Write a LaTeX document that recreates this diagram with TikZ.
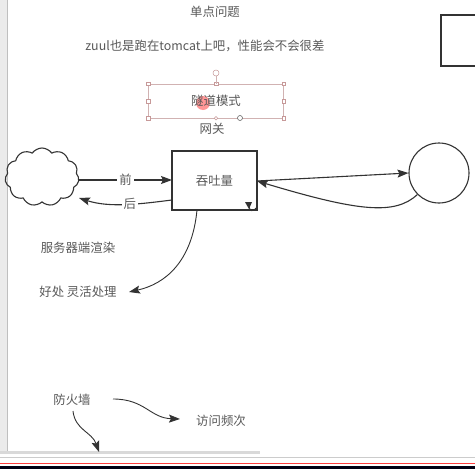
\documentclass[tikz,border=0pt]{standalone}
\usepackage{fontspec}
\newfontfamily\cjk{Noto Sans CJK SC}
\usetikzlibrary{arrows.meta,shapes.symbols}
\begin{document}
\begin{tikzpicture}[x=1pt,y=-1pt,
  txt/.style={font=\cjk\fontsize{12.4}{14}\selectfont,text=black!65,inner sep=0pt},
  ln/.style={draw=black!80,line width=1.1pt},
  arr/.style={ln,-{Stealth[length=11pt,width=8pt,inset=2pt]}},
  handle/.style={draw=red!45!black!40,fill=white,line width=0.5pt,minimum size=4pt,inner sep=0pt}]
\useasboundingbox (0,0) rectangle (475,469);
\fill[white] (0,0) rectangle (475,469);
% UI strips
\fill[black!8] (0,0) rectangle (7,452);
\draw[black!25,line width=0.6pt] (7,0) -- (7,452);
\fill[black!15] (0,450.5) rectangle (260,453.5);
\draw[black!20,line width=0.5pt] (0,457) -- (475,457);
\draw[red!75,line width=1pt] (0,463) -- (475,463);
\fill[black!75!blue!30!black] (0,466) rectangle (475,469);
% texts
\node[txt] (t1) at (215,12) {单点问题};
\node[txt] (t2) at (205,46) {zuul也是跑在tomcat上吧，性能会不会很差};
% selection
\node[draw=red!40!black!30,line width=0.5pt,minimum width=135,minimum height=34,inner sep=0pt] (sel) at (216,101) {};
\fill[red!55,opacity=0.75] (203,103) circle (7);
\node[txt] (tun) at (216,101) {隧道模式};
\foreach \a in {north west,north,north east,west,east,south west,south east}
  \node[handle,rectangle,minimum size=3.5pt] at (sel.\a) {};
\node[handle,circle,minimum size=3.5pt] at (sel.south) {};
\draw[draw=red!40!black!30,line width=0.5pt] (sel.north) -- (216,76);
\node[handle,circle,minimum size=6pt] (rot) at (216,73) {};
\node[draw=black!60,fill=white,circle,minimum size=5pt,inner sep=0pt,line width=0.6pt] (mv) at (240,118) {};
\node[txt] (gw) at (212,129) {网关};
% main box
\node[ln,draw,rectangle,minimum width=85,minimum height=59,inner sep=0pt] (box) at (214.5,180.5) {};
\node[txt] at (box.center) {吞吐量};
% cloud
\node[ln,draw,cloud,cloud puffs=11,cloud puff arc=110,aspect=1.3,minimum width=74,minimum height=58,inner sep=0pt] (cl) at (42,177) {};
% circle
\node[ln,draw,circle,minimum size=60,inner sep=0pt] (circ) at (439,173) {};
\coordinate (clr) at (79,180);
\coordinate (cll) at (79,198);
\coordinate (bl1) at (172,180);
\coordinate (bl2) at (172,200);
\draw[arr] (clr) -- node[fill=white,txt,inner xsep=2pt] {前} (bl1);
\draw[arr] (bl2) .. controls (140,204) and (110,208) .. node[fill=white,txt,inner xsep=2pt,pos=0.45] {后} (cll);
% box-circle
\coordinate (br) at (257,181);
\draw[arr] (br) -- (circ.west);
\draw[arr] (circ.south west) .. controls (395,215) and (360,212) .. (br);
% small tip
\draw[line width=0.9pt,black!80] (249,205) .. controls (249,212) and (254,212) .. (256,208);
\fill[black!80] (245,202) -- (252,202) -- (249,209) -- cycle;
% box down
\coordinate (bb) at (197,210);
\coordinate (tip1) at (129,292);
\draw[arr,line width=0.9pt] (bb) .. controls (192,262) and (165,284) .. (tip1);
\node[txt] (srv) at (78,248) {服务器端渲染};
\node[txt] (hc) at (78,292) {好处 灵活处理};
% firewall
\node[txt] (fw) at (72,400) {防火墙};
\node[txt] (fq) at (221,421) {访问频次};
\draw[arr,line width=0.9pt] (113,399) .. controls (145,399) and (150,418) .. (180,419);
\draw[arr,line width=0.9pt] (73,411) .. controls (75,430) and (92,432) .. (99,452);
% top right rect
\draw[ln,line width=1.2pt] (476,15) -- (441,15) -- (441,66) -- (476,66);
\end{tikzpicture}
\end{document}
